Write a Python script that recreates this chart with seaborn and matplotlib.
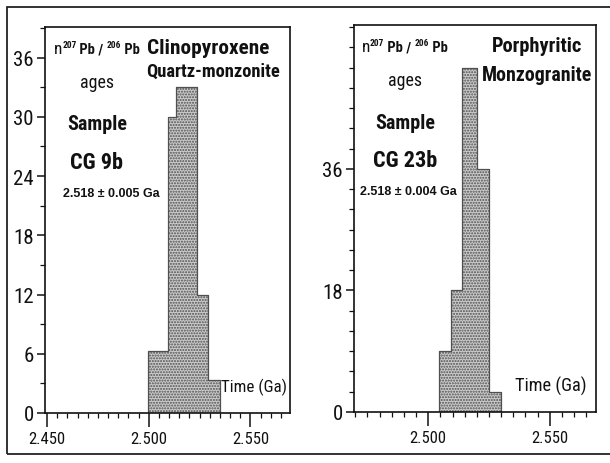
import matplotlib
matplotlib.use("Agg")
import matplotlib.pyplot as plt
import seaborn as sns
from matplotlib import font_manager as fm
from matplotlib.font_manager import FontProperties
from matplotlib.patches import Rectangle
from matplotlib.transforms import IdentityTransform
from matplotlib.ticker import MultipleLocator, FixedLocator

# ---------------- data ----------------
left_edges = [2.4998, 2.5093, 2.5133, 2.5239, 2.5291, 2.5350]
left_counts = [6.3, 30, 33, 12, 3.3]
right_edges = [2.5045, 2.5094, 2.5141, 2.5201, 2.5250, 2.5299]
right_counts = [9, 18, 51, 36, 3]

left_xticks = [2.450, 2.500, 2.550]
left_xlabels = ["2.450", "2.500", "2.550"]
right_xticks = [2.500, 2.550]
right_xlabels = ["2.500", "2.550"]
left_yticks = [0, 6, 12, 18, 24, 30, 36]
right_yticks = [0, 18, 36]

left_title = ["Clinopyroxene", "Quartz-monzonite"]
right_title = ["Porphyritic", "Monzogranite"]
left_sample = ["Sample", "CG 9b"]
right_sample = ["Sample", "CG 23b"]
left_age = "2.518 ± 0.005 Ga"
right_age = "2.518 ± 0.004 Ga"

sns.set_style("ticks")


# ---------------- pick a condensed font if one exists ----------------
def _is_cond(f):
    st = f.stretch
    if "Narrow" in f.name or "Condensed" in f.name:
        return True
    if isinstance(st, str):
        return "condensed" in st
    return st < 100


def _w(f):
    w = f.weight
    if isinstance(w, str):
        w = {"normal": 400, "regular": 400, "bold": 700, "book": 400}.get(w, 400)
    return w


def pick(weight):
    prefs = ["Liberation Sans Narrow", "Roboto Condensed", "Open Sans Condensed",
             "DejaVu Sans", "Noto Sans"]
    cands = [f for f in fm.fontManager.ttflist
             if _is_cond(f) and f.style == "normal"]
    for p in prefs:
        pool = [f for f in cands if f.name == p]
        if pool:
            best = min(pool, key=lambda f: abs(_w(f) - weight))
            return FontProperties(fname=best.fname)
    return FontProperties(family="DejaVu Sans",
                          weight="bold" if weight >= 700 else "normal")


FP_REG = pick(400)
FP_BOLD = pick(700)
FP_AGE = FontProperties(family=["Liberation Sans", "DejaVu Sans"], weight="bold")

fig = plt.figure(figsize=(6.10, 4.64), dpi=100)
fig.patch.set_facecolor("white")
renderer = fig.canvas.get_renderer()

# outer page frame
fig.patches.append(Rectangle((7 / 610, 1 - 455 / 464), 1.0, (455 - 8) / 464,
                             transform=fig.transFigure, fill=False,
                             edgecolor="#222222", linewidth=1.3, clip_on=False))

axL = fig.add_axes([45 / 610, 1 - 414 / 464, 245 / 610, 386 / 464])
axR = fig.add_axes([354 / 610, 1 - 413 / 464, 242 / 610, 387 / 464])

fill_kw = dict(element="step", stat="count", fill=True, alpha=1,
               color="#cbcbcb", edgecolor="#505050", linewidth=0.9,
               hatch="......")


def fit(t, width_px, max_size):
    t.set_fontsize(20)
    w = t.get_window_extent(renderer=renderer).width
    t.set_fontsize(min(max_size, 20 * width_px / w))


def draw(ax, edges, counts, xlim, ylim, xt, xl, yt):
    centers = [(a + b) / 2 for a, b in zip(edges[:-1], edges[1:])]
    sns.histplot(x=centers, weights=counts, bins=edges, ax=ax, **fill_kw)
    ax.set_xlim(*xlim)
    ax.set_ylim(*ylim)
    ax.set_xlabel("")
    ax.set_ylabel("")
    ax.xaxis.set_major_locator(FixedLocator(xt))
    ax.set_xticklabels(xl)
    ax.xaxis.set_minor_locator(MultipleLocator(0.005))
    ax.yaxis.set_major_locator(FixedLocator(yt))
    ax.set_yticklabels([str(v) for v in yt])
    ax.yaxis.set_minor_locator(MultipleLocator(3))
    for s in ax.spines.values():
        s.set_linewidth(1.2)
        s.set_color("#111111")
    ax.tick_params(axis="x", which="major", direction="out", length=10,
                   width=1.1, pad=3, colors="#111111")
    ax.tick_params(axis="x", which="minor", direction="out", length=3.5,
                   width=0.9, colors="#111111")
    ax.tick_params(axis="y", which="major", direction="out", length=6,
                   width=1.1, pad=2, colors="#111111")
    ax.tick_params(axis="y", which="minor", direction="out", length=3.5,
                   width=0.9, colors="#111111")
    for lbl in ax.get_xticklabels():
        lbl.set_fontproperties(FP_REG)
        lbl.set_fontsize(12)
    for lbl in ax.get_yticklabels():
        lbl.set_fontproperties(FP_REG)
        lbl.set_fontsize(15)
    ax.set_facecolor("white")


draw(axL, left_edges, left_counts, (2.449, 2.5695), (0, 39.1),
     left_xticks, left_xlabels, left_yticks)
draw(axR, right_edges, right_counts, (2.4695, 2.5690), (0, 57.3),
     right_xticks, right_xlabels, right_yticks)


def put(ax, x, y, s, fp, width_px, max_size, ha="center"):
    t = ax.text(x, y, s, transform=ax.transAxes, ha=ha, va="center",
                color="#111111", fontproperties=fp)
    fit(t, width_px, max_size)
    return t


def header_text(ax, xc, yc, width_px):
    # n^207 Pb / ^206 Pb laid out piece by piece
    parts = [("n", FP_REG, 12, 0.0), ("207", FP_BOLD, 6.5, 0.45),
             (" Pb", FP_BOLD, 10, 0.0), (" / ", FP_BOLD, 10, 0.0),
             ("206", FP_BOLD, 6.5, 0.45), (" Pb", FP_BOLD, 10, 0.0)]
    texts = []
    for s, fp, size, _ in parts:
        t = fig.text(0, 0, s, transform=IdentityTransform(), ha="left",
                     va="baseline", fontproperties=fp, color="#111111")
        t.set_fontsize(size)
        texts.append(t)
    total = sum(t.get_window_extent(renderer=renderer).width for t in texts)
    k = width_px / total
    for t, (_, _, size, _) in zip(texts, parts):
        t.set_fontsize(size * k)
    widths = [t.get_window_extent(renderer=renderer).width for t in texts]
    cx, cy = ax.transAxes.transform((xc, yc))
    x = cx - sum(widths) / 2
    base = cy - 10 * k * 0.72 * 100 / 72 / 2
    for t, w, (_, _, size, rise) in zip(texts, widths, parts):
        t.set_position((x, base + rise * 10 * k * 100 / 72))
        x += w


def annotate(ax, hx, title, tx, ty, tw, sample, sw, age, ax_age, aw, xtime, timew):
    header_text(ax, hx, 0.945, 86)
    put(ax, hx, 0.858, "ages", FP_REG, 34, 14)
    put(ax, hx, 0.749, sample[0], FP_BOLD, 60, 16)
    put(ax, hx, 0.650, sample[1], FP_BOLD, sw, 16)
    put(ax, ax_age, 0.570, age, FP_AGE, aw, 9)
    put(ax, tx[0], ty[0], title[0], FP_BOLD, tw[0], 16)
    put(ax, tx[1], ty[1], title[1], FP_BOLD, tw[1], 16)
    put(ax, xtime, 0.068, "Time (Ga)", FP_REG, timew, 15, ha="right")


annotate(axL, 0.212, left_title, (0.668, 0.686), (0.948, 0.886), (122, 134),
         left_sample, 53, left_age, 0.269, 102, 0.988, 66)
annotate(axR, 0.210, right_title, (0.757, 0.757), (0.946, 0.873), (90, 110),
         right_sample, 66, right_age, 0.225, 97, 0.963, 72)

fig.savefig("out.png", dpi=100, facecolor="white")
